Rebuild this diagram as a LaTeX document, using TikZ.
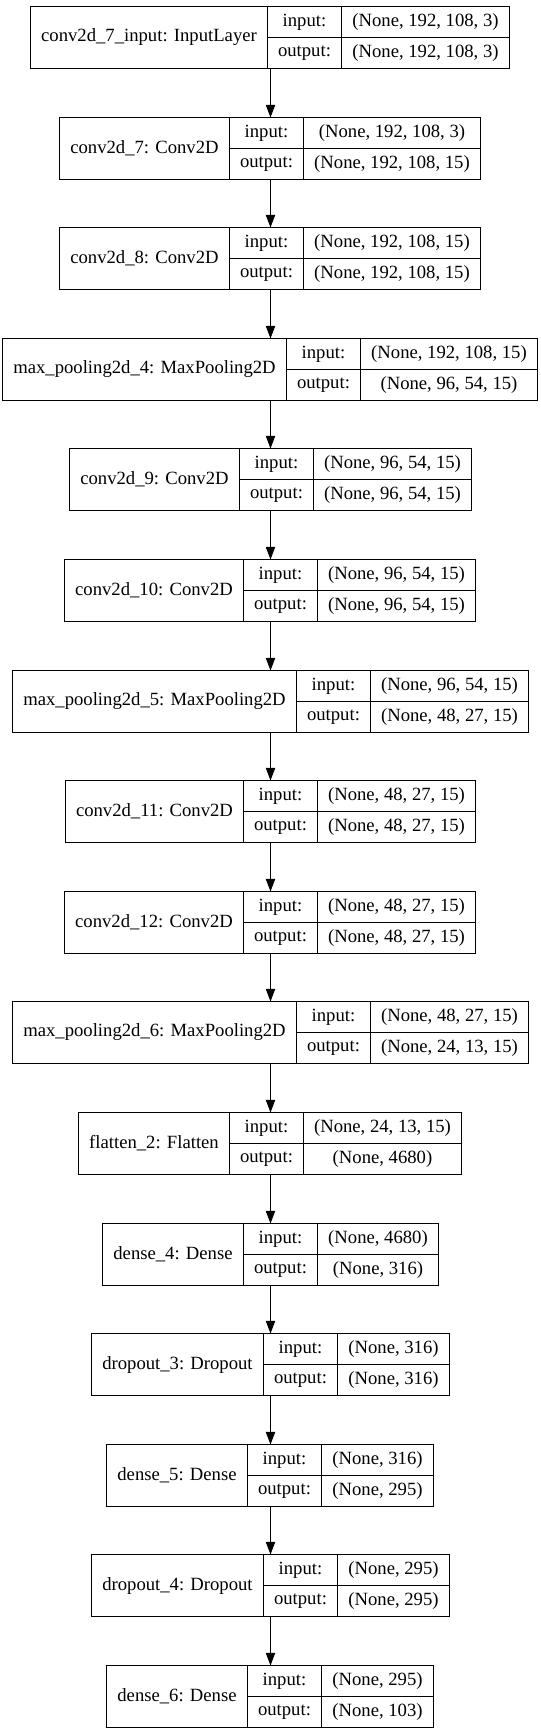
\documentclass[tikz,border=0pt]{standalone}
\usepackage{fontspec}
\setmainfont{Liberation Serif}
\usetikzlibrary{arrows.meta}
\newlength\lyrWlbl
\newlength\lyrWio
\newlength\lyrWsa
\newlength\lyrWsb
\newcommand\lyrfont{\fontsize{14pt}{16pt}\selectfont}
\newcommand\lyrMeasure[2]{\setbox0\hbox{\pgfinterruptpicture\lyrfont #2\endpgfinterruptpicture}#1=\wd0\relax}
\tikzset{
  px/.style={x=0.75pt,y=-0.75pt},
  boxframe/.style={draw=black, line width=0.75pt, inner sep=0pt, outer sep=0pt, minimum height=62*0.75pt},
  cell/.style={draw=black, line width=0.75pt, inner sep=0pt, outer sep=0pt, minimum height=31*0.75pt, font=\lyrfont, text=black},
  flow/.style={draw=black, line width=0.8pt, -{Triangle[length=9.5pt,width=7pt]}},
}
% #1 name, #2 top y (px), #3 label, #4 input shape, #5 output shape
\newcommand\kerasLayer[5]{%
  \lyrMeasure\lyrWlbl{#3}%
  \lyrMeasure\lyrWio{output:}%
  \lyrMeasure\lyrWsa{#4}%
  \lyrMeasure\lyrWsb{#5}%
  \ifdim\lyrWsb>\lyrWsa \lyrWsa=\lyrWsb\fi
  \pgfmathsetmacro\lyrWa{round(\lyrWlbl/0.75+21.33)}%
  \pgfmathsetmacro\lyrWb{round(\lyrWio/0.75+21.33)}%
  \pgfmathsetmacro\lyrWc{round(\lyrWsa/0.75+21.33)}%
  \pgfmathsetmacro\lyrTot{\lyrWa+\lyrWb+\lyrWc}%
  \pgfmathsetmacro\lyrLeft{floor(270-\lyrTot/2)+0.5}%
  \node[boxframe, minimum width=\lyrTot*0.75pt, anchor=north west] (#1) at (\lyrLeft,#2) {};
  \node[cell, minimum width=\lyrWa*0.75pt, minimum height=62*0.75pt, anchor=north west] (#1-name) at (#1.north west) {#3};
  \node[cell, minimum width=\lyrWb*0.75pt, anchor=north west] (#1-inl) at (#1-name.north east) {input:};
  \node[cell, minimum width=\lyrWb*0.75pt, anchor=north west] (#1-outl) at (#1-inl.south west) {output:};
  \node[cell, minimum width=\lyrWc*0.75pt, anchor=north west] (#1-ins) at (#1-inl.north east) {#4};
  \node[cell, minimum width=\lyrWc*0.75pt, anchor=north west] (#1-outs) at (#1-outl.north east) {#5};
}
\begin{document}
\begin{tikzpicture}[px]
\fill[white] (0,0) rectangle (540,1733);
\useasboundingbox (0,0) rectangle (540,1733);
\coordinate (axis) at (270.5,0);
\kerasLayer{L1}{6.5}{conv2d\_7\_input: InputLayer}{(None, 192, 108, 3)}{(None, 192, 108, 3)}
\kerasLayer{L2}{117.5}{conv2d\_7: Conv2D}{(None, 192, 108, 3)}{(None, 192, 108, 15)}
\kerasLayer{L3}{227.5}{conv2d\_8: Conv2D}{(None, 192, 108, 15)}{(None, 192, 108, 15)}
\kerasLayer{L4}{338.5}{max\_pooling2d\_4: MaxPooling2D}{(None, 192, 108, 15)}{(None, 96, 54, 15)}
\kerasLayer{L5}{448.5}{conv2d\_9: Conv2D}{(None, 96, 54, 15)}{(None, 96, 54, 15)}
\kerasLayer{L6}{559.5}{conv2d\_10: Conv2D}{(None, 96, 54, 15)}{(None, 96, 54, 15)}
\kerasLayer{L7}{670.5}{max\_pooling2d\_5: MaxPooling2D}{(None, 96, 54, 15)}{(None, 48, 27, 15)}
\kerasLayer{L8}{780.5}{conv2d\_11: Conv2D}{(None, 48, 27, 15)}{(None, 48, 27, 15)}
\kerasLayer{L9}{891.5}{conv2d\_12: Conv2D}{(None, 48, 27, 15)}{(None, 48, 27, 15)}
\kerasLayer{L10}{1001.5}{max\_pooling2d\_6: MaxPooling2D}{(None, 48, 27, 15)}{(None, 24, 13, 15)}
\kerasLayer{L11}{1112.5}{flatten\_2: Flatten}{(None, 24, 13, 15)}{(None, 4680)}
\kerasLayer{L12}{1223.5}{dense\_4: Dense}{(None, 4680)}{(None, 316)}
\kerasLayer{L13}{1333.5}{dropout\_3: Dropout}{(None, 316)}{(None, 316)}
\kerasLayer{L14}{1444.5}{dense\_5: Dense}{(None, 316)}{(None, 295)}
\kerasLayer{L15}{1554.5}{dropout\_4: Dropout}{(None, 295)}{(None, 295)}
\kerasLayer{L16}{1665.5}{dense\_6: Dense}{(None, 295)}{(None, 103)}
\foreach \a/\b in {L1/L2,L2/L3,L3/L4,L4/L5,L5/L6,L6/L7,L7/L8,L8/L9,L9/L10,L10/L11,L11/L12,L12/L13,L13/L14,L14/L15,L15/L16}
  \draw[flow] (\a.south -| axis) -- (\b.north -| axis);
\end{tikzpicture}
\end{document}
